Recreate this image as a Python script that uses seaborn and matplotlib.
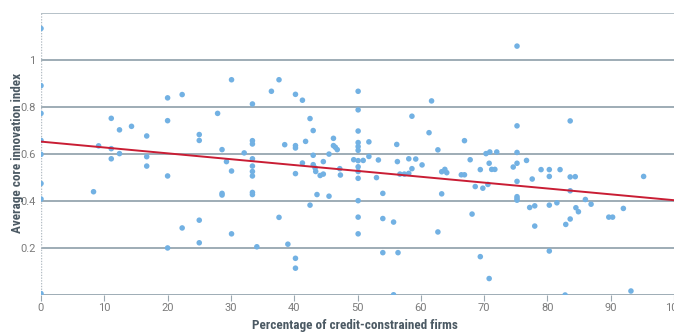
import matplotlib
matplotlib.use("Agg")
import pandas as pd
import seaborn as sns
from matplotlib import font_manager
from matplotlib import pyplot as plt

# * firm-level data: share of credit-constrained firms (x) vs innovation index (y)
credit_constrained = [
    0, 0, 0, 0, 0, 0, 0, 0,
    8.3, 9.1, 11.1, 11.1, 11.1, 12.4, 12.4, 14.3, 16.7, 16.7, 16.7,
    20.0, 20.0, 20.0, 20.0, 22.3, 22.3, 25.0, 25.0, 25.0, 25.0,
    27.9, 28.6, 28.6, 28.6, 29.3, 30.1, 30.1, 30.1, 32.1,
    33.4, 33.4, 33.4, 33.4, 33.4, 33.4, 33.4, 33.4, 33.4,
    34.1, 36.4, 37.6, 37.6, 38.5, 39.0,
    40.2, 40.2, 40.2, 40.2, 40.2, 40.2, 41.3, 41.3, 41.8, 42.5, 42.5,
    43.0, 43.0, 43.0, 43.3, 43.4, 43.6, 44.1, 44.6, 44.6, 45.5, 45.5,
    46.2, 46.2, 46.5, 46.8, 47.2, 47.3, 49.4,
    50.1, 50.1, 50.1, 50.1, 50.1, 50.1, 50.1, 50.1, 50.1, 50.1, 50.1, 50.1, 50.1,
    50.9, 51.8, 51.8, 53.0, 53.3, 54.0, 54.0, 54.0, 55.7, 55.7,
    56.2, 56.3, 56.4, 56.7, 57.4, 58.1, 58.1, 58.6, 58.6, 59.2, 60.2,
    61.3, 61.7, 62.7, 62.7, 63.3, 63.3, 63.8, 64.1,
    66.4, 66.9, 66.9, 67.8, 68.1, 68.6, 69.4, 69.4, 69.8, 70.3, 70.6,
    70.8, 70.8, 70.9, 71.2, 71.7, 72.0, 74.6,
    75.2, 75.2, 75.2, 75.2, 75.2, 75.2, 75.2, 75.2,
    76.7, 77.2, 77.6, 78.0, 78.0, 79.0, 80.3, 80.3, 80.3, 80.3,
    81.5, 82.0, 82.8, 82.9, 83.6, 83.6, 83.6, 83.6, 84.4, 84.5, 84.9,
    86.0, 86.9, 89.7, 90.3, 92.0, 93.2, 95.2,
]
innovation_index = [
    1.133, 0.890, 0.772, 0.657, 0.598, 0.474, 0.408, 0.006,
    0.439, 0.634, 0.751, 0.622, 0.579, 0.702, 0.601, 0.717, 0.676, 0.588, 0.548,
    0.838, 0.741, 0.506, 0.200, 0.852, 0.285, 0.682, 0.657, 0.318, 0.222,
    0.772, 0.618, 0.432, 0.425, 0.567, 0.915, 0.527, 0.260, 0.604,
    0.812, 0.656, 0.642, 0.579, 0.548, 0.525, 0.506, 0.436, 0.427,
    0.205, 0.866, 0.915, 0.330, 0.639, 0.216,
    0.853, 0.635, 0.625, 0.516, 0.156, 0.114, 0.828, 0.561, 0.653, 0.750, 0.382,
    0.699, 0.594, 0.554, 0.540, 0.525, 0.427, 0.508, 0.514, 0.567, 0.599, 0.420,
    0.666, 0.635, 0.628, 0.618, 0.537, 0.510, 0.575,
    0.866, 0.787, 0.697, 0.648, 0.631, 0.615, 0.571, 0.545, 0.525, 0.496, 0.401, 0.331, 0.260,
    0.572, 0.589, 0.651, 0.499, 0.574, 0.432, 0.325, 0.180, 0.310, 0.001,
    0.640, 0.567, 0.180, 0.514, 0.514, 0.579, 0.517, 0.760, 0.537, 0.578, 0.553,
    0.690, 0.825, 0.617, 0.268, 0.524, 0.430, 0.534, 0.520,
    0.511, 0.511, 0.656, 0.575, 0.344, 0.461, 0.533, 0.163, 0.454, 0.601, 0.470,
    0.560, 0.070, 0.608, 0.534, 0.534, 0.608, 0.544,
    1.058, 0.719, 0.606, 0.560, 0.483, 0.418, 0.410, 0.403,
    0.572, 0.372, 0.493, 0.379, 0.293, 0.533, 0.533, 0.504, 0.382, 0.187,
    0.392, 0.533, 0.000, 0.300, 0.740, 0.502, 0.443, 0.323, 0.503, 0.371, 0.354,
    0.406, 0.386, 0.331, 0.331, 0.368, 0.017, 0.504,
]

# * fitted trend line (end points as drawn)
trend_x = [0, 100]
trend_y = [0.652, 0.403]

x_ticks = list(range(0, 101, 10))
y_ticks = [0, 0.2, 0.4, 0.6, 0.8, 1.0, 1.2]
y_tick_labels = ["", "0.2", "0.4", "0.6", "0.8", "1", ""]

df = pd.DataFrame({"x": credit_constrained, "y": innovation_index})
df_trend = pd.DataFrame({"x": trend_x, "y": trend_y})

sns.set_style("white")
plt.rcParams["font.family"] = ["Roboto", "DejaVu Sans"]


def _pick_family(candidates):
    # * first installed family from the list (narrow fonts preferred for the axis titles)
    for fam in candidates:
        try:
            font_manager.findfont(font_manager.FontProperties(family=fam), fallback_to_default=False)
            return fam
        except ValueError:
            continue
    return "DejaVu Sans"


label_family = _pick_family(["Roboto Condensed", "Liberation Sans Narrow", "Open Sans Condensed",
                             "Roboto", "Lato"])

fig = plt.figure(figsize=(6.74, 3.33), dpi=100)
ax = fig.add_axes([41 / 674, 38 / 333, 633 / 674, 282.3 / 333])

grid_col = "#8e9ea9"
for yv in y_ticks:
    ax.axhline(yv, color=grid_col if yv < 1.1 else "#a9b6bf", lw=1.2, zorder=1)
ax.axvline(0, color="#b5bec5", lw=1.0, ls=(0, (1, 1)), zorder=1)

sns.scatterplot(data=df, x="x", y="y", color="#72b1e3", s=16, edgecolor="none",
                linewidth=0, ax=ax, zorder=2)
sns.lineplot(data=df_trend, x="x", y="y", color="#c91d34", lw=1.4, ax=ax, zorder=3)

ax.set_xlim(0, 100)
ax.set_ylim(0, 1.2)
ax.set_xticks(x_ticks)
ax.set_xticklabels([str(t) for t in x_ticks])
ax.set_yticks(y_ticks)
ax.set_yticklabels(y_tick_labels)
for s in ax.spines.values():
    s.set_visible(False)

ax.tick_params(axis="x", length=4, width=0.8, color="#9aa7b0", labelsize=8,
               labelcolor="#7b7b7b", pad=2, direction="out")
ax.tick_params(axis="y", length=0, labelsize=8, labelcolor="#7b7b7b", pad=4)
ax.xaxis.set_ticks_position("bottom")

lab_font = dict(family=[label_family, "DejaVu Sans"], weight="bold", size=10,
                color="#4b5963")
ax.set_xlabel("Percentage of credit-constrained firms", **lab_font)
ax.set_ylabel("Average core innovation index", **lab_font)
ax.xaxis.set_label_coords(314 / 633, -30 / 282.3)
ax.xaxis.label.set_va("center")
ax.yaxis.set_label_coords(-23 / 633, 142 / 282.3)
ax.yaxis.label.set_va("center")

# * fit the axis titles to the length they have in the original
renderer = fig.canvas.get_renderer()
xl_w = ax.xaxis.label.get_window_extent(renderer).width
ax.xaxis.label.set_fontsize(min(10.5, 10 * 205 / xl_w))
yl_h = ax.yaxis.label.get_window_extent(renderer).height
ax.yaxis.label.set_fontsize(min(10.5, 10 * 159 / yl_h))

fig.savefig("out.png", dpi=100)
plt.close(fig)
